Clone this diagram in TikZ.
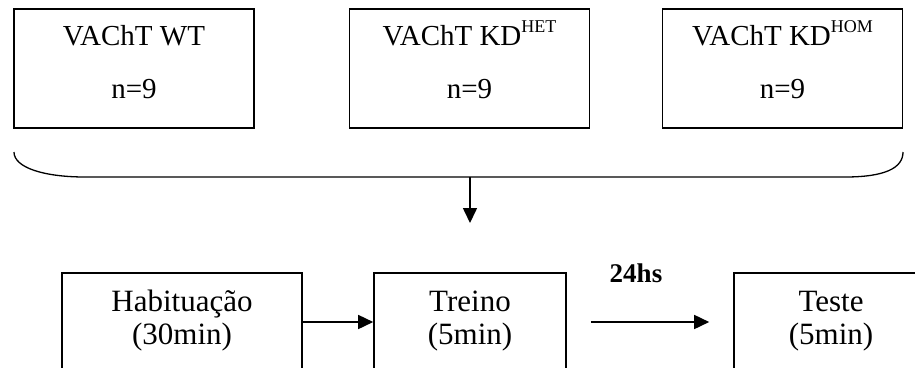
\documentclass[tikz,border=0pt]{standalone}
\usepackage{fontspec}
\setmainfont{Liberation Serif}
\usetikzlibrary{arrows.meta,positioning}

% raised genotype tag after KD
\newcommand{\gtype}[1]{\raisebox{13pt}{\fontsize{18}{18}\selectfont #1}}

\begin{document}
\begin{tikzpicture}[x=1pt,y=-1pt,
    group/.style={draw, line width=1.6pt, minimum width=240pt, minimum height=119pt, inner sep=0pt},
    stage/.style={draw, line width=1.6pt, minimum height=98pt, inner sep=0pt},
    txt/.style={anchor=base, inner sep=0pt, font=\fontsize{29}{29}\selectfont},
    stxt/.style={anchor=base, inner sep=0pt, font=\fontsize{31}{31}\selectfont},
    flow/.style={line width=1.6pt, -{Triangle[length=15pt,width=14pt]}}]

  \clip (0,0) rectangle (915,367);

  % ==================================================
  % Top row: the three genotype groups
  % ==================================================
  \node[group] (wt)  at (134,68.5)   {};
  \node[group] (het) at (469.5,68.5) {};
  \node[group] (hom) at (782.5,68.5) {};

  % -- group names and sizes
  \node[txt] (wt-name)  at (134,45)   {VAChT WT};
  \node[txt] (wt-n)     at (134,98)   {n=9};
  \node[txt] (het-name) at (469.5,45) {VAChT KD\gtype{HET}};
  \node[txt] (het-n)    at (469.5,98) {n=9};
  \node[txt] (hom-name) at (782.5,45) {VAChT KD\gtype{HOM}};
  \node[txt] (hom-n)    at (782.5,98) {n=9};

  % -- brace gathering the groups, then down to the protocol
  \draw[line width=1.3pt]
  (14,152) .. controls (14,168) and (45,177) .. (85,177)
  -- (845,177) .. controls (885,177) and (903,168) .. (903,152);
  \coordinate (join) at (470,177);
  \coordinate (drop) at (470,223);
  \draw[flow] (join) -- (drop);

  % ==================================================
  % Bottom row: the three sessions
  % ==================================================
  \node[stage, minimum width=240pt] (hab)    at (182,322) {};
  \node[stage, minimum width=192pt] (treino) at (470,322) {};
  \node[stage, minimum width=210pt] (teste)  at (839,322) {};

  \node[stxt] (hab-a)    at (182,311) {Habituação};
  \node[stxt] (hab-b)    at (182,344) {(30min)};
  \node[stxt] (treino-a) at (470,311) {Treino};
  \node[stxt] (treino-b) at (470,344) {(5min)};
  \node[stxt] (teste-a)  at (831,311) {Teste};
  \node[stxt] (teste-b)  at (831,344) {(5min)};

  % -- arrows between sessions
  \draw[flow] (hab) -- (treino);
  \coordinate[right=24pt of treino.east] (wait-a);
  \coordinate[left=24pt of teste.west] (wait-b);
  \draw[flow] (wait-a) -- (wait-b);
  \node[anchor=base, inner sep=0pt, font=\bfseries\fontsize{27}{27}\selectfont]
  (delay) at (636,282) {24hs};

\end{tikzpicture}
\end{document}
